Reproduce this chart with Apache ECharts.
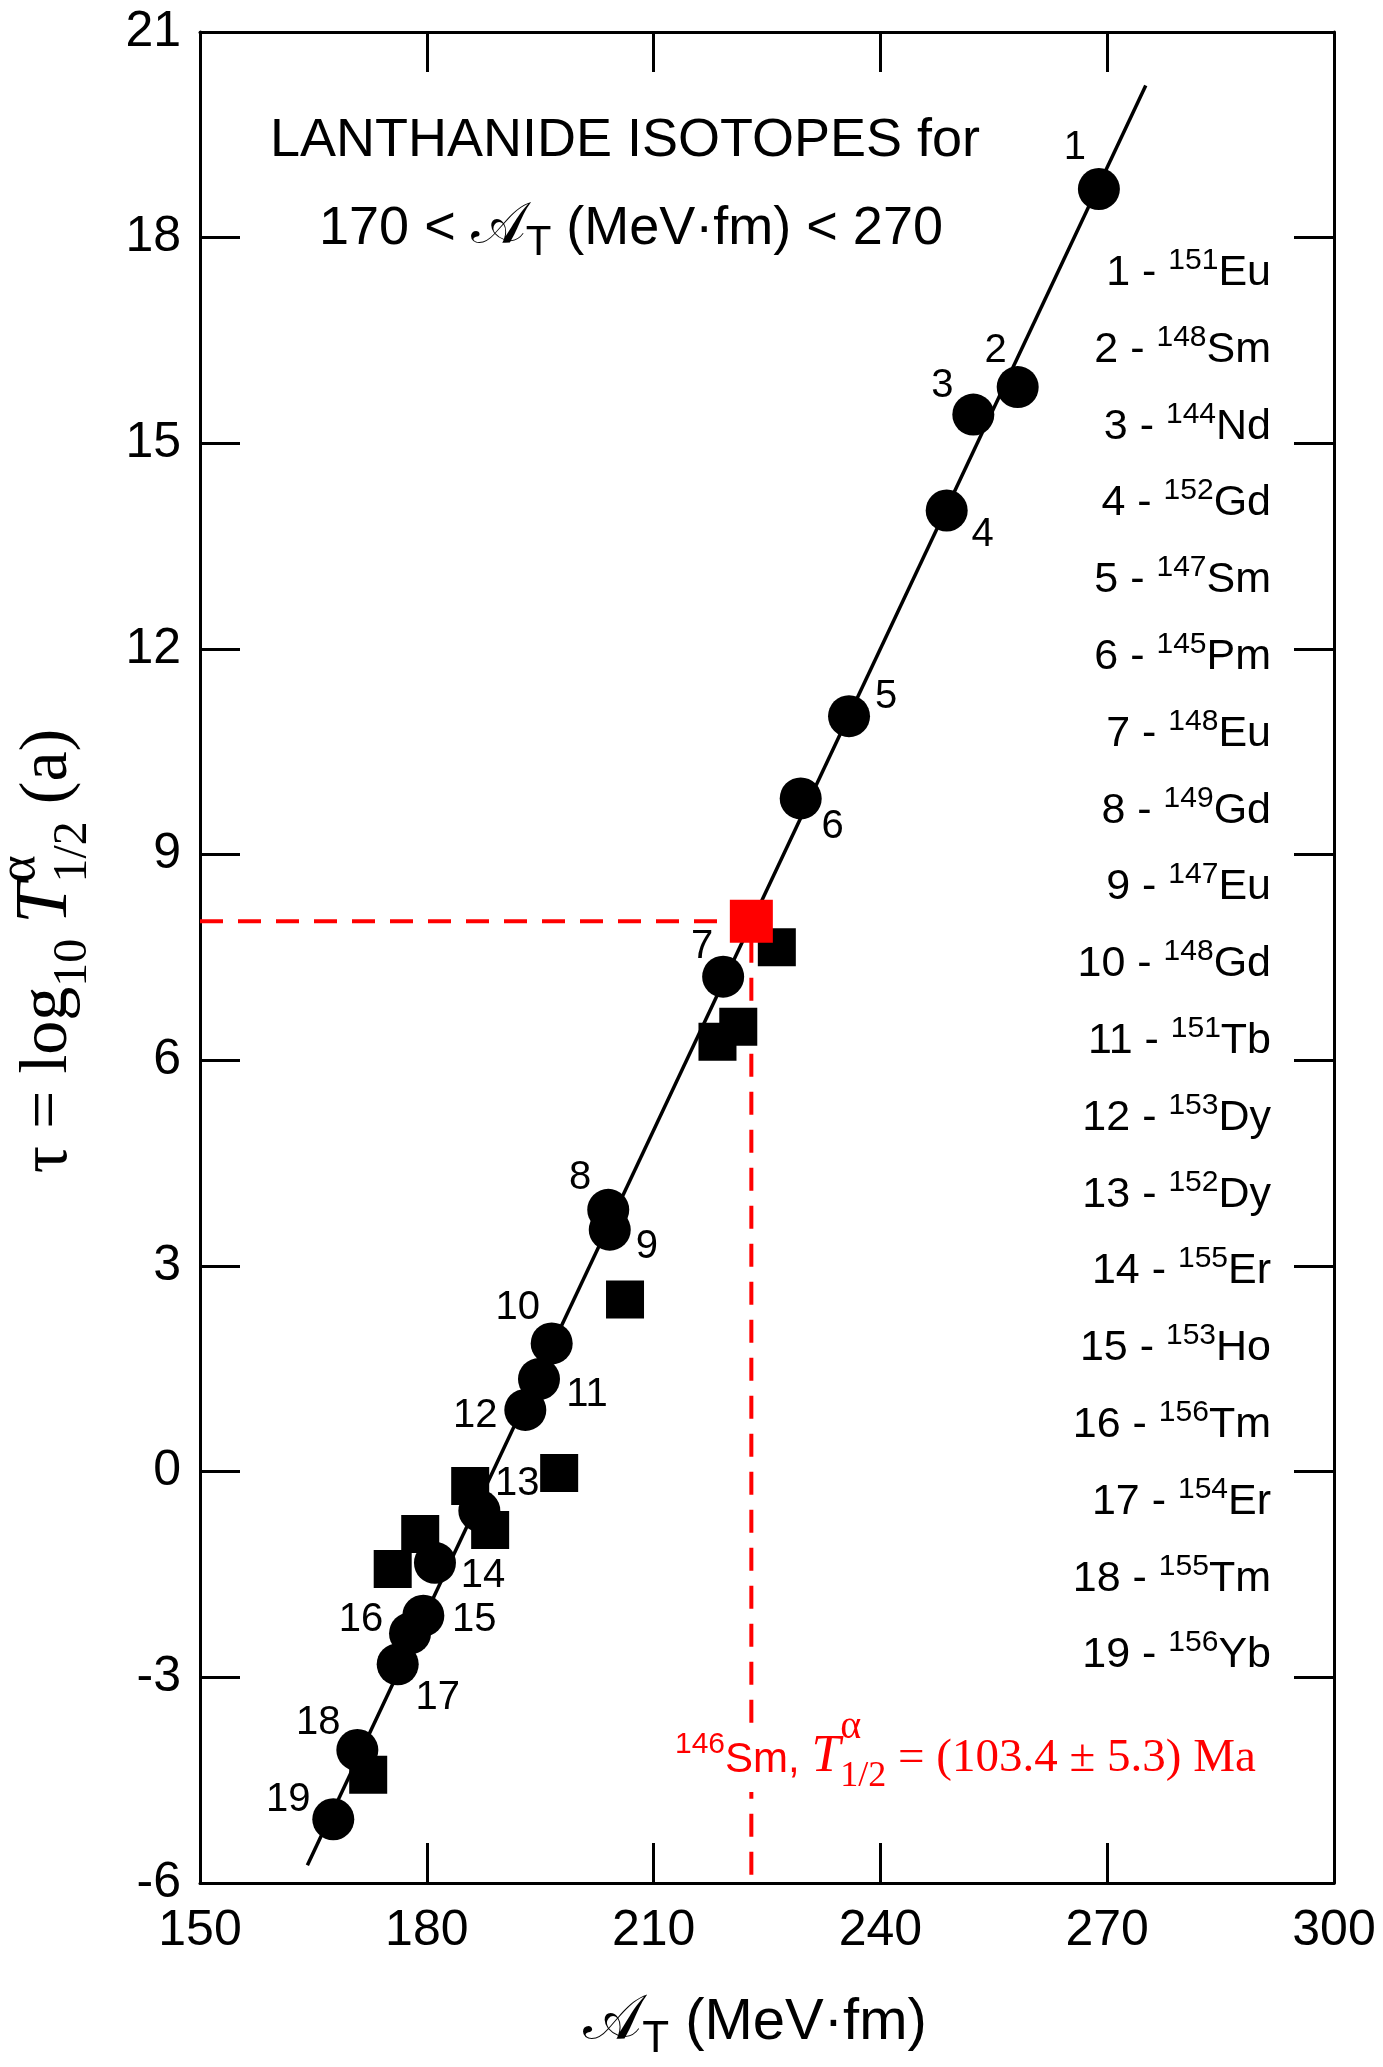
<!DOCTYPE html>
<html>
<head>
<meta charset="utf-8">
<script src="https://cdn.jsdelivr.net/npm/echarts@6/dist/echarts.min.js"></script>
<style>
html, body { margin: 0; padding: 0; background: #fff; }
#chart { width: 1383px; height: 2067px; }
</style>
</head>
<body>
<div id="chart"></div>
<script>
// numbered isotopes (circles)
var circleX = [268.9, 258.16, 252.29, 248.77, 235.85, 229.46, 219.2, 204.0, 204.2, 196.52,
    194.84, 193.03, 186.95, 181.08, 179.54, 177.78, 176.15, 170.81, 167.63];
var circleY = [18.71, 15.82, 15.42, 14.02, 11.02, 9.82, 7.22, 3.82, 3.53, 1.87,
    1.35, 0.90, -0.57, -1.33, -2.10, -2.36, -2.81, -4.06, -5.07];
// other points (black squares)
var squareX = [226.3, 221.2, 218.45, 206.22, 197.51, 185.74, 188.38, 179.13, 175.49, 172.25];
var squareY = [7.65, 6.49, 6.27, 2.51, -0.02, -0.21, -0.85, -0.91, -1.42, -4.42];
// 146Sm
var smX = [222.93];
var smY = [8.03];
// fitted line ends
var fitX = [164.2, 275.1];
var fitY = [-5.74, 20.22];
// red guide (to the axes)
var guideX = [150, 222.93, 222.93];
var guideY = [8.03, 8.03, -6];

var isoMass = ['151', '148', '144', '152', '147', '145', '148', '149', '147', '148',
    '151', '153', '152', '155', '153', '156', '154', '155', '156'];
var isoElem = ['Eu', 'Sm', 'Nd', 'Gd', 'Sm', 'Pm', 'Eu', 'Gd', 'Eu', 'Gd',
    'Tb', 'Dy', 'Dy', 'Er', 'Ho', 'Tm', 'Er', 'Tm', 'Yb'];

var xMin = 150, xMax = 300, xStep = 30;
var yMin = -6, yMax = 21, yStep = 3;

// pixel nudges of the number labels next to the circles
var labelNudge = [[-24, -41], [-22, -36], [-31, -29], [36, 24], [37, -19], [32, 29], [-21, -30],
    [-28, -32], [37, 17], [-34, -35], [48, 16], [-50, 6], [38, -27], [48, 13], [51, 4],
    [-49, -13], [40, 34], [-39, -27], [-45, -19]];

var SANS = '"Liberation Sans", Arial, sans-serif';
var SERIF = '"Liberation Serif", "Times New Roman", serif';
var SCRIPT = '"DejaVu Serif", "DejaVu Sans", serif';

function zip(xs, ys) {
    return xs.map(function (x, i) { return [x, ys[i]]; });
}

var meter = document.createElement('canvas').getContext('2d');

// lay out mixed-font text on one baseline
function run(parts, x0, y0, align, color) {
    var placed = [], x = 0, stackW = null;
    parts.forEach(function (p) {
        var font = (p.it ? 'italic ' : '') + p.size + 'px ' + p.fam;
        meter.font = font;
        var w = meter.measureText(p.t).width;
        placed.push({p: p, font: font, x: x});
        if (p.stack) {
            stackW = w;
        } else {
            x += stackW === null ? w : Math.max(w, stackW);
            stackW = null;
        }
    });
    var shift = align === 'center' ? -x / 2 : (align === 'right' ? -x : 0);
    return placed.map(function (q) {
        return {
            type: 'text',
            z: 60,
            x: x0 + shift + q.x,
            y: y0 + (q.p.dy || 0) - 0.345 * q.p.size,
            style: {text: q.p.t, font: q.font, fill: color || '#000', align: 'left', verticalAlign: 'middle'}
        };
    });
}

var graphics = [];
graphics = graphics.concat(run([{t: 'LANTHANIDE ISOTOPES for', fam: SANS, size: 54}], 625, 160, 'center'));
graphics = graphics.concat(run([
    {t: '170 < ', fam: SANS, size: 54},
    {t: '\uD835\uDC9C', fam: SCRIPT, size: 58},
    {t: 'T', fam: SANS, size: 42, dy: 10},
    {t: ' (MeV\u00B7fm) < 270', fam: SANS, size: 54}
], 631, 248, 'center'));

for (var i = 0; i < isoMass.length; i++) {
    graphics = graphics.concat(run([
        {t: (i + 1) + ' - ', fam: SANS, size: 43},
        {t: isoMass[i], fam: SANS, size: 30, dy: -17},
        {t: isoElem[i], fam: SANS, size: 43}
    ], 1271, 288 + i * 76.8, 'right'));
}

// x axis name
graphics = graphics.concat(run([
    {t: '\uD835\uDC9C', fam: SCRIPT, size: 62},
    {t: 'T', fam: SANS, size: 44, dy: 12},
    {t: ' (MeV\u00B7fm)', fam: SANS, size: 58}
], 755, 2043, 'center'));

// y axis name (rotated)
graphics.push({
    type: 'group',
    x: 72,
    y: 951,
    rotation: Math.PI / 2,
    children: run([
        {t: '\u03C4 = log', fam: SERIF, size: 68},
        {t: '10', fam: SERIF, size: 48, dy: 18},
        {t: ' ', fam: SERIF, size: 60},
        {t: 'T', fam: SERIF, size: 74, it: true},
        {t: '\u03B1', fam: SERIF, size: 52, dy: -34, stack: true},
        {t: '1/2', fam: SERIF, size: 48, dy: 18},
        {t: ' (a)', fam: SERIF, size: 68}
    ], 0, 0, 'center')
});

// red annotation, with a white patch breaking the dashed guide
graphics.push({type: 'rect', z: 55, shape: {x: 738, y: 1734, width: 26, height: 58}, style: {fill: '#fff'}});
graphics = graphics.concat(run([
    {t: '146', fam: SANS, size: 30, dy: -20},
    {t: 'Sm, ', fam: SANS, size: 42},
    {t: 'T', fam: SERIF, size: 52, it: true},
    {t: '\u03B1', fam: SERIF, size: 40, dy: -34, stack: true},
    {t: '1/2', fam: SERIF, size: 36, dy: 14},
    {t: ' = (103.4 \u00B1 5.3) Ma', fam: SERIF, size: 47}
], 675, 1775, 'left', '#ff0000'));

var axisBase = {
    type: 'value',
    axisLine: {show: true, onZero: false, lineStyle: {color: '#000', width: 3}},
    axisTick: {show: true, inside: true, length: 40, lineStyle: {color: '#000', width: 3}},
    splitLine: {show: false}
};

function axis(extra) {
    return Object.assign({}, axisBase, extra);
}

var circleData = zip(circleX, circleY).map(function (pt, i) {
    return {
        value: pt,
        label: {show: true, formatter: String(i + 1), offset: labelNudge[i]}
    };
});

var chart = echarts.init(document.getElementById('chart'));
var option = {
    animation: false,
    backgroundColor: '#fff',
    grid: {left: 200, right: 49, top: 32, bottom: 184, containLabel: false},
    xAxis: [
        axis({min: xMin, max: xMax, interval: xStep, position: 'bottom',
            axisLabel: {show: true, showMinLabel: true, showMaxLabel: true, margin: 23, fontSize: 50, color: '#000', fontFamily: SANS}}),
        axis({min: xMin, max: xMax, interval: xStep, position: 'top', axisLabel: {show: false}})
    ],
    yAxis: [
        axis({min: yMin, max: yMax, interval: yStep, position: 'left',
            axisLabel: {show: true, showMinLabel: true, showMaxLabel: true, margin: 19, fontSize: 50, color: '#000', fontFamily: SANS}}),
        axis({min: yMin, max: yMax, interval: yStep, position: 'right', axisLabel: {show: false}})
    ],
    series: [
        {
            type: 'line',
            data: zip(fitX, fitY),
            symbol: 'none',
            silent: true,
            lineStyle: {color: '#000', width: 3.5},
            z: 2
        },
        {
            type: 'line',
            data: zip(guideX, guideY),
            symbol: 'none',
            silent: true,
            lineStyle: {color: '#ff0000', width: 4, type: [23, 15]},
            z: 2
        },
        {
            type: 'scatter',
            symbol: 'rect',
            symbolSize: 38,
            data: zip(squareX, squareY),
            itemStyle: {color: '#000', opacity: 1},
            z: 3
        },
        {
            type: 'scatter',
            symbol: 'circle',
            symbolSize: 42,
            data: circleData,
            itemStyle: {color: '#000', opacity: 1},
            label: {position: 'inside', fontSize: 40, color: '#000', fontFamily: SANS},
            z: 4
        },
        {
            type: 'scatter',
            symbol: 'rect',
            symbolSize: 43,
            data: zip(smX, smY),
            itemStyle: {color: '#ff0000', opacity: 1},
            z: 5
        }
    ],
    graphic: graphics
};
chart.setOption(option);
</script>
</body>
</html>
